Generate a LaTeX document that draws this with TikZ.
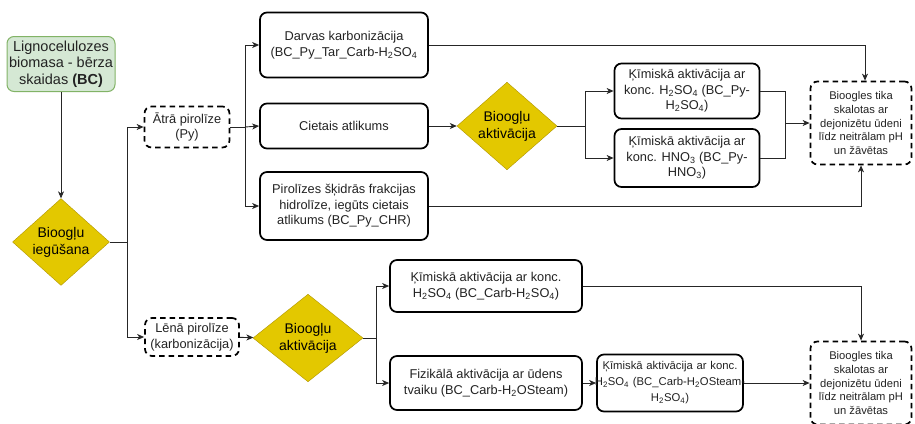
\documentclass[tikz,border=0pt]{standalone}
\usepackage{fontspec}
\setmainfont{Liberation Sans}
\usetikzlibrary{arrows.meta,shapes.geometric}
\definecolor{leafgreen}{HTML}{D5E8D4}
\definecolor{leafedge}{HTML}{82B366}
\definecolor{charfill}{HTML}{E3C800}
\definecolor{charedge}{HTML}{B09500}
\definecolor{inkgray}{HTML}{222222}

\tikzset{
  procbox/.style={draw=black,line width=1.7pt,rounded corners=7pt,align=center,
    inner sep=2pt,text=inkgray,font=\fontsize{12.8}{15.5}\selectfont},
  dashbox/.style={procbox,dash pattern=on 5.5pt off 4pt},
  washbox/.style={dashbox,font=\fontsize{11.2}{13.6}\selectfont},
  decision/.style={diamond,draw=charedge,fill=charfill,align=center,inner sep=0pt,
    font=\fontsize{14}{17}\selectfont},
  conn/.style={line width=0.9pt,draw=black!85},
  arr/.style={conn,-{Stealth[length=7pt,width=6pt,inset=2pt]}}
}

\begin{document}
\begin{tikzpicture}[x=1pt,y=-1pt]
\useasboundingbox (0,0) rectangle (915,423);

% source material
\node (bc) [procbox,draw=leafedge,fill=leafgreen,line width=1pt,minimum width=108pt,minimum height=55pt,
  font=\fontsize{14.5}{16.5}\selectfont] at (61,64) {Lignocelulozes\\biomasa - bērza\\skaidas \textbf{(BC)}};
\node (d1) [decision,minimum width=97pt,minimum height=82pt] at (61,242) {Bioogļu\\iegūšana};

% pyrolysis
\node (atra) [dashbox,minimum width=85pt,minimum height=41pt] at (187,127) {Ātrā pirolīze\\(Py)};
\node (lena) [dashbox,minimum width=94pt,minimum height=38pt] at (192,337) {Lēnā pirolīze\\(karbonizācija)};

% fast pyrolysis products
\node (darvas) [procbox,minimum width=168pt,minimum height=65pt] at (344,45)
  {Darvas karbonizācija\\(BC\_Py\_Tar\_Carb-H\textsubscript{2}SO\textsubscript{4}};
\node (cietais) [procbox,minimum width=168pt,minimum height=45pt] at (344,126) {Cietais atlikums};
\node (piro) [procbox,minimum width=168pt,minimum height=68pt] at (344,206)
  {Pirolīzes šķidrās frakcijas\\hidrolīze, iegūts cietais\\atlikums (BC\_Py\_CHR)};
\node (d2) [decision,minimum width=100pt,minimum height=86pt] at (507,126) {Bioogļu\\aktivācija};
\node (kh2so4) [procbox,minimum width=145pt,minimum height=55pt] at (687,91)
  {Ķīmiskā aktivācija ar\\konc. H\textsubscript{2}SO\textsubscript{4} (BC\_Py-\\H\textsubscript{2}SO\textsubscript{4})};
\node (khno3) [procbox,minimum width=145pt,minimum height=58pt] at (687,158)
  {Ķīmiskā aktivācija ar\\konc. HNO\textsubscript{3} (BC\_Py-\\HNO\textsubscript{3})};
\node (bio1) [washbox,minimum width=101pt,minimum height=83pt] at (861,123)
  {Bioogles tika\\skalotas ar\\dejonizētu ūdeni\\līdz neitrālam pH\\un žāvētas};

% slow pyrolysis products
\node (d3) [decision,minimum width=110pt,minimum height=86pt] at (308,338) {Bioogļu\\aktivācija};
\node (kcarb) [procbox,minimum width=192pt,minimum height=52pt] at (486,286)
  {Ķīmiskā aktivācija ar konc.\\H\textsubscript{2}SO\textsubscript{4} (BC\_Carb-H\textsubscript{2}SO\textsubscript{4})};
\node (fiz) [procbox,minimum width=192pt,minimum height=54pt] at (486,383)
  {Fizikālā aktivācija ar ūdens\\tvaiku (BC\_Carb-H\textsubscript{2}OSteam)};
\node (ksteam) [procbox,text width=142pt,minimum height=57pt,
  font=\fontsize{11.3}{16}\selectfont] at (670,383)
  {\makebox[142pt][c]{Ķīmiskā aktivācija ar konc.}\\\makebox[142pt][c]{H\textsubscript{2}SO\textsubscript{4} (BC\_Carb-H\textsubscript{2}OSteam-}\\H\textsubscript{2}SO\textsubscript{4})};
\node (bio2) [washbox,minimum width=101pt,minimum height=83pt] at (861,383)
  {Bioogles tika\\skalotas ar\\dejonizētu ūdeni\\līdz neitrālam pH\\un žāvētas};

% branch points
\coordinate (j1) at (127,242);
\coordinate (j2) at (245,127);
\coordinate (j3) at (585,126);
\coordinate (j4) at (785,123);
\coordinate (j5) at (376,338);

% connectors
\draw[arr] (bc) -- (d1);
\draw[conn] (d1.east) -- (j1);
\draw[arr] (j1) |- (atra.west);
\draw[arr] (j1) |- (lena.west);
\draw[conn] (atra.east) -- (j2);
\draw[arr] (j2) |- (darvas.west);
\draw[arr] (j2) -- (cietais.west);
\draw[arr] (j2) |- (piro.west);
\draw[arr] (darvas.east) -| ([xshift=4pt]bio1.north);
\draw[arr] (cietais) -- (d2);
\draw[arr] (piro.east) -| (bio1.south);
\draw[conn] (d2.east) -- (j3);
\draw[arr] (j3) |- (kh2so4.west);
\draw[arr] (j3) |- (khno3.west);
\draw[conn] (kh2so4.east) -| (j4) |- (khno3.east);
\draw[arr] (j4) -- (bio1.west);
\draw[arr] (lena) -- (d3);
\draw[conn] (d3.east) -- (j5);
\draw[arr] (j5) |- (kcarb.west);
\draw[arr] (j5) |- (fiz.west);
\draw[arr] (kcarb.east) -| (bio2.north);
\draw[arr] (fiz) -- (ksteam);
\draw[arr] (ksteam) -- (bio2);
\end{tikzpicture}
\end{document}
